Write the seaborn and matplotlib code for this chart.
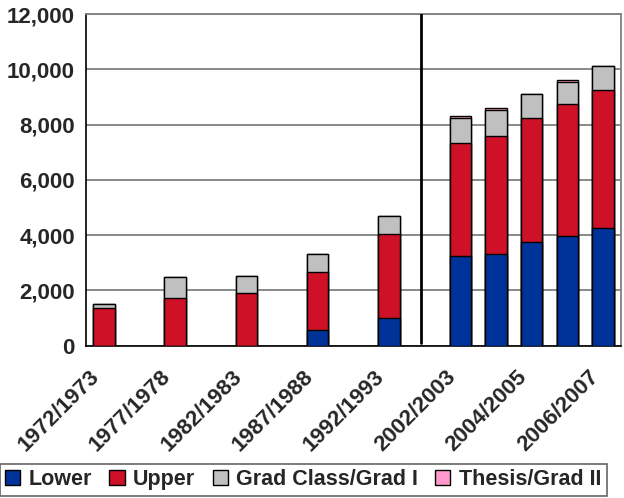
import matplotlib
matplotlib.use("Agg")
import matplotlib.pyplot as plt
from matplotlib.patches import Patch
from matplotlib.ticker import FuncFormatter, MultipleLocator
import seaborn as sns
import pandas as pd

# enrolment by academic year
seasons = ["1972/1973", "1977/1978", "1982/1983", "1987/1988", "1992/1993",
           "2002/2003", "2003/2004", "2004/2005", "2005/2006", "2006/2007"]
lower = [0, 0, 0, 570, 1010, 3250, 3330, 3750, 3980, 4270]
upper = [1350, 1730, 1890, 2100, 3020, 4100, 4260, 4490, 4780, 4990]
grad = [170, 740, 640, 650, 680, 880, 940, 880, 790, 860]
thesis = [0, 0, 0, 0, 0, 80, 80, 0, 80, 0]

series_names = ["Lower", "Upper", "Grad Class/Grad I", "Thesis/Grad II"]
colors = ["#003399", "#CE1126", "#C0C0C0", "#FF99CC"]

# the category axis has an empty slot between the older years
slots = []
for s in seasons[:5]:
    slots += [s, "gap " + s]
slots += seasons[5:]

df = pd.DataFrame({"season": seasons, "Lower": lower, "Upper": upper,
                   "Grad Class/Grad I": grad, "Thesis/Grad II": thesis})
cum = df[series_names].cumsum(axis=1)
cum["season"] = df["season"]

sns.set_style("white")
plt.rcParams["font.family"] = ["Liberation Sans", "DejaVu Sans"]
plt.rcParams["font.weight"] = "bold"

fig = plt.figure(figsize=(6.24, 4.98), dpi=100)
ax = fig.add_axes([0.1378, 0.3058, 0.857, 0.666])

# draw cumulative totals from the top down so each layer shows
for name, col in reversed(list(zip(series_names, colors))):
    sns.barplot(data=cum, x="season", y=name, order=slots, color=col,
                saturation=1, width=0.6, edgecolor="black", linewidth=1,
                errorbar=None, ax=ax, zorder=3)

ax.set_xlim(-0.5, len(slots) - 0.5)
ax.set_ylim(0, 12000)
ax.yaxis.set_major_locator(MultipleLocator(2000))
ax.yaxis.set_major_formatter(FuncFormatter(lambda v, p: f"{int(v):,}"))
ax.grid(axis="y", color="#808080", linewidth=1.3, zorder=0)
ax.set_axisbelow(True)
ax.set_xlabel("")
ax.set_ylabel("")

# divider between the old and recent years
ax.plot([8.9, 8.9], [100, 12000], color="black", linewidth=2, zorder=4)

# every other category is labelled; labels sit a little left of the bars
ax.set_xticks([i - 0.42 for i in range(0, len(slots), 2)])
ax.set_xticklabels(slots[::2], rotation=45, ha="right", va="top",
                   rotation_mode="anchor", fontsize=16, fontweight="bold")
ax.set_xticks([i - 0.5 for i in range(len(slots) + 1)], minor=True)
ax.tick_params(axis="x", which="major", length=0, pad=15)
ax.tick_params(axis="x", which="minor", length=5, width=1, color="black",
               direction="out")
ax.tick_params(axis="y", length=4, width=1, color="black", labelsize=16,
               pad=4)
for lab in ax.get_yticklabels():
    lab.set_fontweight("bold")

for side in ["top", "right"]:
    ax.spines[side].set_color("#808080")
    ax.spines[side].set_linewidth(1.3)
for side in ["left", "bottom"]:
    ax.spines[side].set_color("black")
    ax.spines[side].set_linewidth(1.2)

handles = [Patch(facecolor=c, edgecolor="black", linewidth=1, label=n)
           for n, c in zip(series_names, colors)]
leg = fig.legend(handles=handles, loc="lower center", ncol=4,
                 bbox_to_anchor=(0.486, 0.0), frameon=True, fancybox=False,
                 prop={"size": 15.5, "weight": "bold"}, handlelength=0.7,
                 handleheight=0.7, handletextpad=0.4, columnspacing=0.8,
                 borderpad=0.25, borderaxespad=0.1)
leg.get_frame().set_edgecolor("#404040")
leg.get_frame().set_linewidth(1.2)

fig.savefig("out.png", dpi=100)
